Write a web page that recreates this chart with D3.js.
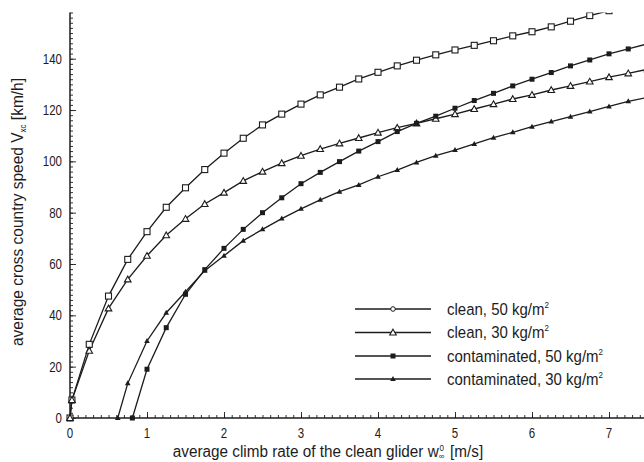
<!DOCTYPE html>
<html>
<head>
<meta charset="utf-8">
<script src="https://cdn.jsdelivr.net/npm/d3@7"></script>
<style>
  html, body { margin: 0; padding: 0; background: #fff; }
  svg { display: block; font-family: "Liberation Sans", Arial, Helvetica, sans-serif; }
</style>
</head>
<body>
<svg id="chart" width="644" height="462"></svg>
<script>
// Average climb rate of the clean glider [m/s]
const xClean = [0, 0.025, 0.25, 0.5, 0.75, 1, 1.25, 1.5, 1.75, 2, 2.25, 2.5, 2.75, 3, 3.25, 3.5, 3.75,
  4, 4.25, 4.5, 4.75, 5, 5.25, 5.5, 5.75, 6, 6.25, 6.5, 6.75, 7, 7.25, 7.5];
const xContam50 = [0.81, 1, 1.25, 1.5, 1.75, 2, 2.25, 2.5, 2.75, 3, 3.25, 3.5, 3.75,
  4, 4.25, 4.5, 4.75, 5, 5.25, 5.5, 5.75, 6, 6.25, 6.5, 6.75, 7, 7.25, 7.5];
const xContam30 = [0.62, 0.75, 1, 1.25, 1.5, 1.75, 2, 2.25, 2.5, 2.75, 3, 3.25, 3.5, 3.75,
  4, 4.25, 4.5, 4.75, 5, 5.25, 5.5, 5.75, 6, 6.25, 6.5, 6.75, 7, 7.25, 7.5];

// Average cross country speed [km/h]
const clean50 = [0, 7, 28.7, 47.5, 61.8, 72.6, 82.1, 89.7, 96.8, 103.2, 109, 114.2, 118.4, 122.3, 125.9,
  128.9, 132.1, 134.7, 137.2, 139.4, 141.5, 143.4, 145.2, 147, 148.9, 150.5, 152.4, 154.6, 156.8, 158.7, 160.5, 162.3];
const clean30 = [0, 7, 26.2, 42.7, 54, 63.2, 71.2, 77.6, 83.4, 87.8, 92.4, 96, 99.3, 102.2, 104.8,
  107, 109.1, 111.2, 113.1, 114.8, 116.6, 118.4, 120.4, 122.3, 124.3, 125.9, 127.8, 129.4, 131.1, 132.8, 134.3, 135.9];
const contam50 = [0, 19, 35.2, 48.2, 57.8, 66.1, 73.5, 80, 85.8, 91.3, 95.7, 99.9, 104, 107.7, 111.6,
  114.8, 117.6, 120.7, 123.7, 126.5, 129.4, 132, 134.6, 137.2, 139.5, 141.9, 143.8, 145.8];
const contam30 = [0, 13.5, 30, 41, 49.2, 57.4, 63.2, 69.1, 73.5, 77.7, 81.5, 85, 88.2, 90.8, 94,
  96.6, 99.6, 102.2, 104.4, 106.8, 109.2, 111.3, 113.5, 115.5, 117.4, 119.4, 121.4, 123.4, 124.9];

const seriesNames = ["clean, 50 kg/m", "clean, 30 kg/m", "contaminated, 50 kg/m", "contaminated, 30 kg/m"];
const markerKinds = ["openSquare", "openTriangle", "filledSquare", "filledTriangle"];

const xTicks = [0, 1, 2, 3, 4, 5, 6, 7];
const yTicks = [0, 20, 40, 60, 80, 100, 120, 140];

const series = [
  { name: seriesNames[0], marker: markerKinds[0], pts: xClean.map((x, i) => [x, clean50[i]]) },
  { name: seriesNames[1], marker: markerKinds[1], pts: xClean.map((x, i) => [x, clean30[i]]) },
  { name: seriesNames[2], marker: markerKinds[2], pts: xContam50.map((x, i) => [x, contam50[i]]) },
  { name: seriesNames[3], marker: markerKinds[3], pts: xContam30.map((x, i) => [x, contam30[i]]) }
];

const ink = "#1c1c1c";
const svg = d3.select("#chart");
const plotLeft = 70, plotBottom = 418, plotTop = 12.5, plotRight = 644;

const x = d3.scaleLinear().domain([0, 7.5]).range([plotLeft, plotLeft + 7.5 * 77]);
const y = d3.scaleLinear().domain([0, 158]).range([plotBottom, plotTop]);

svg.append("defs").append("clipPath").attr("id", "plot")
  .append("rect").attr("x", plotLeft - 4).attr("y", plotTop)
  .attr("width", plotRight - plotLeft + 4).attr("height", plotBottom - plotTop + 4);

// Text with the tall, slightly condensed look of the typeset figure
function tallText(parent, tx, ty, str, size, anchor, sy) {
  return parent.append("text")
    .attr("transform", `translate(${tx},${ty}) scale(1,${sy})`)
    .attr("text-anchor", anchor).attr("font-size", size).attr("fill", ink)
    .text(str);
}

// Axes with inward ticks: major ticks labelled, minor ticks unlabelled
const gx = svg.append("g").attr("transform", `translate(0,${plotBottom})`)
  .call(d3.axisTop(x).tickValues(d3.range(0, 7.45, 0.1)).tickSize(3).tickFormat(""));
gx.select(".domain").remove();
const gxMaj = svg.append("g").attr("transform", `translate(0,${plotBottom})`)
  .call(d3.axisTop(x).tickValues(xTicks).tickSize(6).tickFormat(""));
gxMaj.select(".domain").remove();
svg.append("line").attr("x1", plotLeft).attr("x2", plotRight).attr("y1", plotBottom).attr("y2", plotBottom)
  .attr("stroke", ink).attr("stroke-width", 1.5);
const xLab = svg.append("g");
xTicks.forEach(d => tallText(xLab, x(d), plotBottom + 20, d, 11.5, "middle", 1.2));

const gy = svg.append("g").attr("transform", `translate(${plotLeft},0)`)
  .call(d3.axisRight(y).tickValues(d3.range(0, 158.1, 2)).tickSize(3).tickFormat(""));
gy.select(".domain").remove();
const gyMaj = svg.append("g").attr("transform", `translate(${plotLeft},0)`)
  .call(d3.axisRight(y).tickValues(yTicks).tickSize(6).tickFormat(""));
gyMaj.select(".domain").remove();
svg.append("line").attr("x1", plotLeft).attr("x2", plotLeft).attr("y1", plotTop).attr("y2", plotBottom)
  .attr("stroke", ink).attr("stroke-width", 1.5);
const yLab = svg.append("g");
yTicks.forEach(d => tallText(yLab, plotLeft - 8, y(d) + 5, d, 11.5, "end", 1.2));

svg.selectAll(".tick line").attr("stroke", ink).attr("stroke-width", 0.9);

// Marker shapes
function drawMarker(g, kind, cx, cy) {
  if (kind === "openSquare") {
    g.append("rect").attr("x", cx - 3).attr("y", cy - 3).attr("width", 6).attr("height", 6)
      .attr("fill", "#fff").attr("stroke", ink).attr("stroke-width", 1.1);
  } else if (kind === "openTriangle") {
    g.append("path").attr("d", `M${cx},${cy - 3.3}L${cx + 3.3},${cy + 2.5}L${cx - 3.3},${cy + 2.5}Z`)
      .attr("fill", "#fff").attr("stroke", ink).attr("stroke-width", 1.1);
  } else if (kind === "filledSquare") {
    g.append("rect").attr("x", cx - 2.5).attr("y", cy - 2.5).attr("width", 5).attr("height", 5)
      .attr("fill", ink);
  } else {
    g.append("path").attr("d", `M${cx},${cy - 3}L${cx + 2.8},${cy + 2}L${cx - 2.8},${cy + 2}Z`)
      .attr("fill", ink);
  }
}

const line = d3.line().x(d => x(d[0])).y(d => y(d[1]));
const plot = svg.append("g").attr("clip-path", "url(#plot)");
series.forEach(s => {
  plot.append("path").datum(s.pts).attr("d", line)
    .attr("fill", "none").attr("stroke", ink).attr("stroke-width", 1.3);
});
series.forEach(s => {
  const g = plot.append("g");
  s.pts.forEach(p => drawMarker(g, s.marker, x(p[0]), y(p[1])));
});

// Legend
const legendRows = [309, 332.5, 356, 379];
series.forEach((s, i) => {
  const ly = legendRows[i];
  svg.append("line").attr("x1", 355).attr("x2", 431).attr("y1", ly).attr("y2", ly)
    .attr("stroke", ink).attr("stroke-width", 1.3);
  const g = svg.append("g");
  if (s.marker === "openSquare") {
    g.append("circle").attr("cx", 393).attr("cy", ly).attr("r", 2.3)
      .attr("fill", "#fff").attr("stroke", ink).attr("stroke-width", 1);
  } else {
    drawMarker(g, s.marker, 393, ly);
  }
  const t = tallText(svg, 447, ly + 5.5, "", 15, "start", 1.1);
  t.append("tspan").text(s.name);
  t.append("tspan").attr("font-size", 8).attr("dy", -6).text("2");
});

// Axis titles
const xt = tallText(svg, 328, 457, "", 15.3, "middle", 1.06);
xt.append("tspan").text("average climb rate of the clean glider w");
xt.append("tspan").attr("font-size", 8).attr("dy", 2).text("\u221E");
xt.append("tspan").attr("font-size", 8).attr("dx", -5).attr("dy", -8).text("0");
xt.append("tspan").attr("dx", 2).attr("dy", 6).text(" [m/s]");

const yt = svg.append("text").attr("transform", "translate(23,212) rotate(-90) scale(1,1.08)")
  .attr("text-anchor", "middle").attr("font-size", 15.5).attr("fill", ink);
yt.append("tspan").text("average cross country speed V");
yt.append("tspan").attr("font-size", 8).attr("dy", 3).text("xc");
yt.append("tspan").attr("dy", -3).text(" [km/h]");
</script>
</body>
</html>
